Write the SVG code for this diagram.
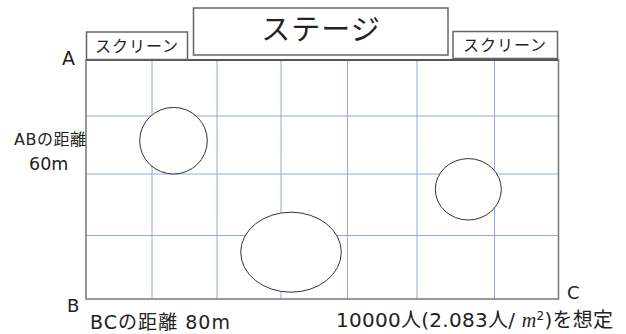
<svg xmlns="http://www.w3.org/2000/svg" width="626" height="334" viewBox="0 0 626 334">
<style>
text{font-family:"DejaVu Sans","Noto Sans CJK JP",sans-serif;fill:#222}
.jp{font-family:"Noto Sans CJK JP",sans-serif}
.box{fill:#fff;stroke:#666;stroke-width:1.5}
.grid{stroke:#8eaadf;stroke-width:1}
.blob{fill:#fff;stroke:#333;stroke-width:1}
</style>
<g id="field">
<rect x="86" y="60" width="472.5" height="239" fill="#fff" stroke="none"/>
</g>
<g id="grid">
<line class="grid" x1="152" y1="60" x2="152" y2="299"/>
<line class="grid" x1="217" y1="60" x2="217" y2="299"/>
<line class="grid" x1="281" y1="60" x2="281" y2="299"/>
<line class="grid" x1="347.5" y1="60" x2="347.5" y2="299"/>
<line class="grid" x1="417" y1="60" x2="417" y2="299"/>
<line class="grid" x1="494.5" y1="60" x2="494.5" y2="299"/>
<line class="grid" x1="86" y1="116" x2="558.5" y2="116"/>
<line class="grid" x1="86" y1="174" x2="558.5" y2="174"/>
<line class="grid" x1="86" y1="235.5" x2="558.5" y2="235.5"/>
</g>
<g id="border">
<rect x="86" y="60" width="472.5" height="239" fill="none" stroke="#777" stroke-width="1.5"/>
<line x1="86" y1="60" x2="558.5" y2="60" stroke="#555" stroke-width="2"/>
</g>
<g id="blob1"><ellipse class="blob" cx="173.5" cy="140.7" rx="33.8" ry="33.3"/></g>
<g id="blob2"><ellipse class="blob" cx="291" cy="252.2" rx="50.3" ry="40"/></g>
<g id="blob3"><ellipse class="blob" cx="468.3" cy="189.3" rx="33" ry="30.7"/></g>
<g id="screen-left">
<rect class="box" x="86.5" y="32" width="101" height="27.5"/>
<text class="jp" x="137" y="52" font-size="16" text-anchor="middle" letter-spacing="1">スクリーン</text>
</g>
<g id="stage">
<rect class="box" x="193.5" y="8" width="254.5" height="47"/>
<text class="jp" x="321" y="40" font-size="29" text-anchor="middle" letter-spacing="1">ステージ</text>
</g>
<g id="screen-right">
<rect class="box" x="453" y="31.5" width="104.5" height="27"/>
<text class="jp" x="505" y="51" font-size="16" text-anchor="middle" letter-spacing="1">スクリーン</text>
</g>
<g id="labels">
<text x="62" y="65" font-size="19">A</text>
<text x="67" y="312" font-size="18">B</text>
<text x="567" y="299" font-size="18">C</text>
<text x="14" y="145" font-size="16" textLength="72">ABの距離</text>
<text x="29" y="170" font-size="17.5">60m</text>
<text x="90" y="329" font-size="19" textLength="140">BCの距離 80m</text>
<text x="336" y="327" font-size="20" textLength="277">10000人(2.083人/ <tspan font-family="'Liberation Serif',serif" font-style="italic">m</tspan><tspan font-size="12" dy="-7">2</tspan><tspan dy="7">)を想定</tspan></text>
</g>
</svg>
